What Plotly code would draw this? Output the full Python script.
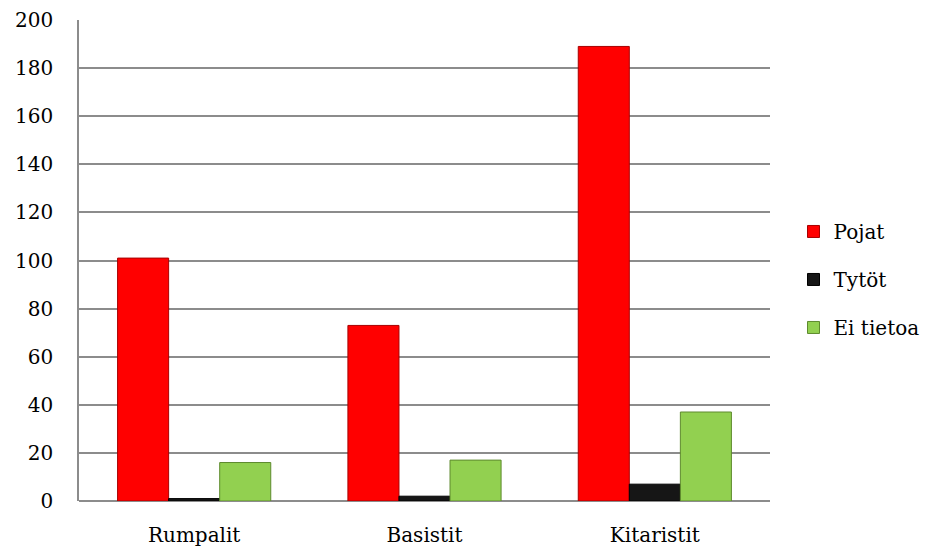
import plotly.graph_objects as go

categories = ["Rumpalit", "Basistit", "Kitaristit"]
pojat = [101, 73, 189]
tytot = [1, 2, 7]
ei_tietoa = [16, 17, 37]
y_ticks = [0, 20, 40, 60, 80, 100, 120, 140, 160, 180, 200]

series = [
    ("Pojat", pojat, "#FF0000", "#A80000"),
    ("Tytöt", tytot, "#161616", "#000000"),
    ("Ei tietoa", ei_tietoa, "#92D050", "#5E8A2E"),
]

font_family = "DejaVu Serif"

fig = go.Figure()
for i, (name, vals, fill, edge) in enumerate(series):
    fig.add_trace(go.Bar(
        x=categories, y=vals, name=name,
        legendgroup=f"g{i}",
        marker=dict(color=fill, line=dict(color=edge, width=1)),
    ))

fig.update_layout(
    width=927, height=548,
    margin=dict(l=79, r=157, t=20, b=47, autoexpand=False),
    paper_bgcolor="white", plot_bgcolor="white",
    barmode="group", bargap=0.335, bargroupgap=0,
    font=dict(family=font_family, size=20, color="#000000"),
    legend=dict(
        xref="container", yref="container",
        x=0.856, y=0.49, xanchor="left", yanchor="middle",
        tracegroupgap=19, font=dict(size=20),
        itemwidth=30,
    ),
    showlegend=True,
)
fig.update_xaxes(
    showgrid=False, showline=False, ticks="",
    ticklabelstandoff=20, automargin=False,
)
fig.update_yaxes(
    range=[0, 200], tickvals=y_ticks,
    showgrid=True, gridcolor="#8C8C8C", gridwidth=1.5,
    showline=True, linecolor="#8C8C8C", linewidth=1.5,
    zeroline=True, zerolinecolor="#8C8C8C", zerolinewidth=1.5,
    ticks="", ticklabelstandoff=20, automargin=False,
)

fig.write_html("out.html")
